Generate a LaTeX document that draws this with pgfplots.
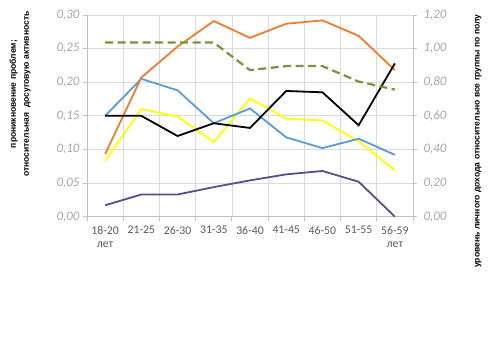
\documentclass[border=0pt]{standalone}
\usepackage{fontspec}
\setmainfont{Carlito}
\newfontfamily\labfont{Liberation Sans}
\usepackage{pgfplots}
\pgfplotsset{compat=1.18}
\definecolor{cOrange}{HTML}{ED7D31}
\definecolor{cBlue}{HTML}{5B9BD5}
\definecolor{cYellow}{HTML}{FFFF00}
\definecolor{cPurple}{HTML}{5F4A8B}
\definecolor{cGreen}{HTML}{77933C}
\definecolor{cGrid}{HTML}{D9D9D9}
\definecolor{cAxis}{HTML}{BFBFBF}
\definecolor{cTick}{HTML}{A6A6A6}
\definecolor{cXlab}{HTML}{595959}
\begin{document}
\begin{tikzpicture}
\useasboundingbox (0,0) rectangle (500bp,353bp);
\begin{axis}[
  at={(87bp,136.3bp)}, anchor=south west,
  scale only axis, width=326bp, height=201.7bp,
  xmin=0, xmax=9, ymin=0, ymax=0.30,
  axis x line*=bottom, axis y line*=left,
  axis line style={cAxis, line width=0.8bp},
  xtick={0,...,9}, xticklabels={},
  extra x ticks={0.5,1.5,...,8.5},
  extra x tick labels={{18-20\\лет},21-25,26-30,31-35,36-40,41-45,46-50,51-55,{56-59\\лет}},
  extra x tick style={major tick length=0pt, grid=none,
     xticklabel style={align=center, font=\fontsize{11.8}{13.5}\selectfont, text=cXlab, yshift=-6bp}},
  ytick={0,0.05,...,0.30},
  yticklabel style={font=\fontsize{13}{15}\selectfont\itshape, text=cTick},
  /pgf/number format/.cd, fixed, fixed zerofill, precision=2, use comma, assume math mode=true,
  /pgfplots/.cd,
  tick align=outside, major tick length=4bp,
  tick style={cAxis, line width=0.8bp},
  xmajorgrids, ymajorgrids,
  grid style={cGrid, line width=0.7bp},
  ylabel={проникновение проблем;\\относительная\ \ досуговую активность},
  ylabel style={at={(axis description cs:-0.205,0.608)}, anchor=center, rotate=0,
    align=center, font=\labfont\fontsize{8.6}{13}\selectfont\bfseries},
  clip=false,
]
\addplot[cPurple, line width=1.8bp] coordinates {(0.5,0.017)(1.5,0.033)(2.5,0.033)(3.5,0.044)(4.5,0.054)(5.5,0.063)(6.5,0.068)(7.5,0.052)(8.5,0.000)};
\addplot[cYellow, line width=1.8bp] coordinates {(0.5,0.083)(1.5,0.160)(2.5,0.149)(3.5,0.111)(4.5,0.176)(5.5,0.146)(6.5,0.143)(7.5,0.112)(8.5,0.069)};
\addplot[cBlue, line width=1.8bp] coordinates {(0.5,0.150)(1.5,0.205)(2.5,0.188)(3.5,0.139)(4.5,0.161)(5.5,0.118)(6.5,0.102)(7.5,0.116)(8.5,0.092)};
\addplot[cOrange, line width=1.8bp] coordinates {(0.5,0.093)(1.5,0.207)(2.5,0.253)(3.5,0.291)(4.5,0.266)(5.5,0.287)(6.5,0.292)(7.5,0.269)(8.5,0.218)};
\addplot[black, line width=1.8bp] coordinates {(0.5,0.150)(1.5,0.150)(2.5,0.120)(3.5,0.139)(4.5,0.132)(5.5,0.187)(6.5,0.185)(7.5,0.136)(8.5,0.228)};
\addplot[cGreen, line width=2.2bp, dash pattern=on 8bp off 4.5bp] coordinates {(0.5,0.259)(1.5,0.259)(2.5,0.259)(3.5,0.259)(4.5,0.218)(5.5,0.224)(6.5,0.224)(7.5,0.201)(8.5,0.189)};
\end{axis}
\begin{axis}[
  at={(87bp,136.3bp)}, anchor=south west,
  scale only axis, width=326bp, height=201.7bp,
  xmin=0, xmax=9, ymin=0, ymax=1.20,
  axis x line=none, axis y line*=right,
  axis line style={cAxis, line width=0.8bp},
  ytick={0,0.2,...,1.2},
  yticklabel style={font=\fontsize{13}{15}\selectfont\itshape, text=cTick, xshift=3bp},
  /pgf/number format/.cd, fixed, fixed zerofill, precision=2, use comma, assume math mode=true,
  /pgfplots/.cd,
  tick align=outside, major tick length=4bp,
  tick style={cAxis, line width=0.8bp},
  ylabel={уровень личного дохода относительно все группы по полу},
  ylabel style={at={(axis description cs:1.20,0.375)}, anchor=center, rotate=0,
    font=\labfont\fontsize{8.6}{10}\selectfont\bfseries},
]
\end{axis}
\end{tikzpicture}
\end{document}
